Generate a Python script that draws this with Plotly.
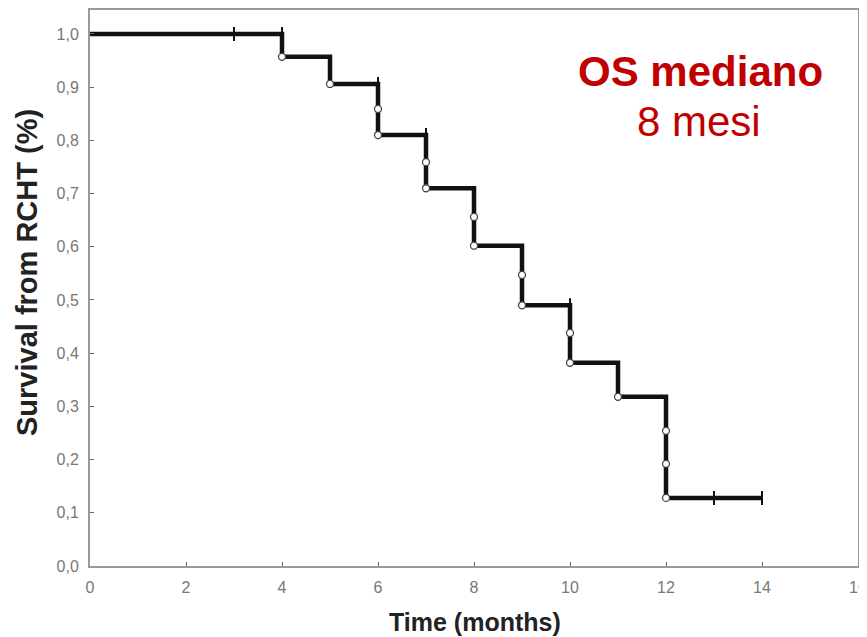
import plotly.graph_objects as go

# Kaplan-Meier step curve (time in months, survival fraction)
step_time = [0, 4, 5, 6, 7, 8, 9, 10, 11, 12, 14]
step_surv = [1.0, 0.957, 0.906, 0.81, 0.71, 0.602, 0.49, 0.382, 0.318, 0.128, 0.128]

# Events (open circles)
event_time = [4, 5, 6, 6, 7, 7, 8, 8, 9, 9, 10, 10, 11, 12, 12, 12]
event_surv = [0.957, 0.906, 0.859, 0.81, 0.759, 0.71, 0.656, 0.602, 0.547, 0.49,
              0.438, 0.382, 0.318, 0.254, 0.192, 0.128]

# Censored observations (vertical ticks)
cens_time = [3, 4, 6, 7, 10, 13, 14]
cens_surv = [1.0, 1.0, 0.906, 0.81, 0.49, 0.128, 0.128]

x_ticks = [0, 2, 4, 6, 8, 10, 12, 14, 16]
y_ticks = [0.0, 0.1, 0.2, 0.3, 0.4, 0.5, 0.6, 0.7, 0.8, 0.9, 1.0]

FONT = "Arial, Liberation Sans, sans-serif"

fig = go.Figure()
fig.add_trace(go.Scatter(x=step_time, y=step_surv, mode="lines",
                         line=dict(shape="hv", color="#111111", width=4.5),
                         hoverinfo="skip", showlegend=False))
fig.add_trace(go.Scatter(x=cens_time, y=cens_surv, mode="markers",
                         marker=dict(symbol="line-ns", size=10,
                                     line=dict(color="#111111", width=2)),
                         showlegend=False))
fig.add_trace(go.Scatter(x=event_time, y=event_surv, mode="markers",
                         marker=dict(symbol="circle", size=7, color="white",
                                     line=dict(color="#444444", width=1.3)),
                         showlegend=False))

fig.add_annotation(x=12.71, y=0.93, xref="x", yref="y", text="<b>OS mediano</b>",
                   showarrow=False, font=dict(family=FONT, size=42, color="#C00000"),
                   xanchor="center", yanchor="middle")
fig.add_annotation(x=12.69, y=0.835, xref="x", yref="y", text="8 mesi",
                   showarrow=False, font=dict(family=FONT, size=42, color="#C00000"),
                   xanchor="center", yanchor="middle")

# Axis titles placed as annotations (paper coords)
fig.add_annotation(x=0.501, y=-0.1007, xref="paper", yref="paper",
                   text="<b>Time (months)</b>", showarrow=False,
                   font=dict(family=FONT, size=25, color="#222222"),
                   xanchor="center", yanchor="middle")
fig.add_annotation(x=-0.082, y=0.527, xref="paper", yref="paper",
                   text="<b>Survival from RCHT (%)</b>", showarrow=False, textangle=-90,
                   font=dict(family=FONT, size=29, color="#222222"),
                   xanchor="center", yanchor="middle")

# The page body has an 8px margin, so the figure is sized and offset to fit the window
fig.update_layout(
    width=859, height=629,
    margin=dict(l=82, r=9, t=2, b=71, autoexpand=False),
    paper_bgcolor="white", plot_bgcolor="white",
    separators=",.",
    font=dict(family=FONT),
)
fig.update_xaxes(range=[0, 16], tickvals=x_ticks, ticktext=[str(v) for v in x_ticks],
                 showgrid=False, zeroline=False, automargin=False,
                 showline=True, linecolor="#999999", linewidth=2, mirror=True,
                 ticks="inside", ticklen=4, tickcolor="#666666",
                 tickfont=dict(family=FONT, size=16, color="#777777"),
                 ticklabelstandoff=6)
fig.update_yaxes(range=[0, 1.045], tickvals=y_ticks, tickformat=".1f",
                 showgrid=False, zeroline=False, automargin=False,
                 showline=True, linecolor="#999999", linewidth=2, mirror=True,
                 ticks="inside", ticklen=4, tickcolor="#666666",
                 tickfont=dict(family=FONT, size=16, color="#777777"),
                 ticklabelstandoff=6)

fig.write_html("out.html")
